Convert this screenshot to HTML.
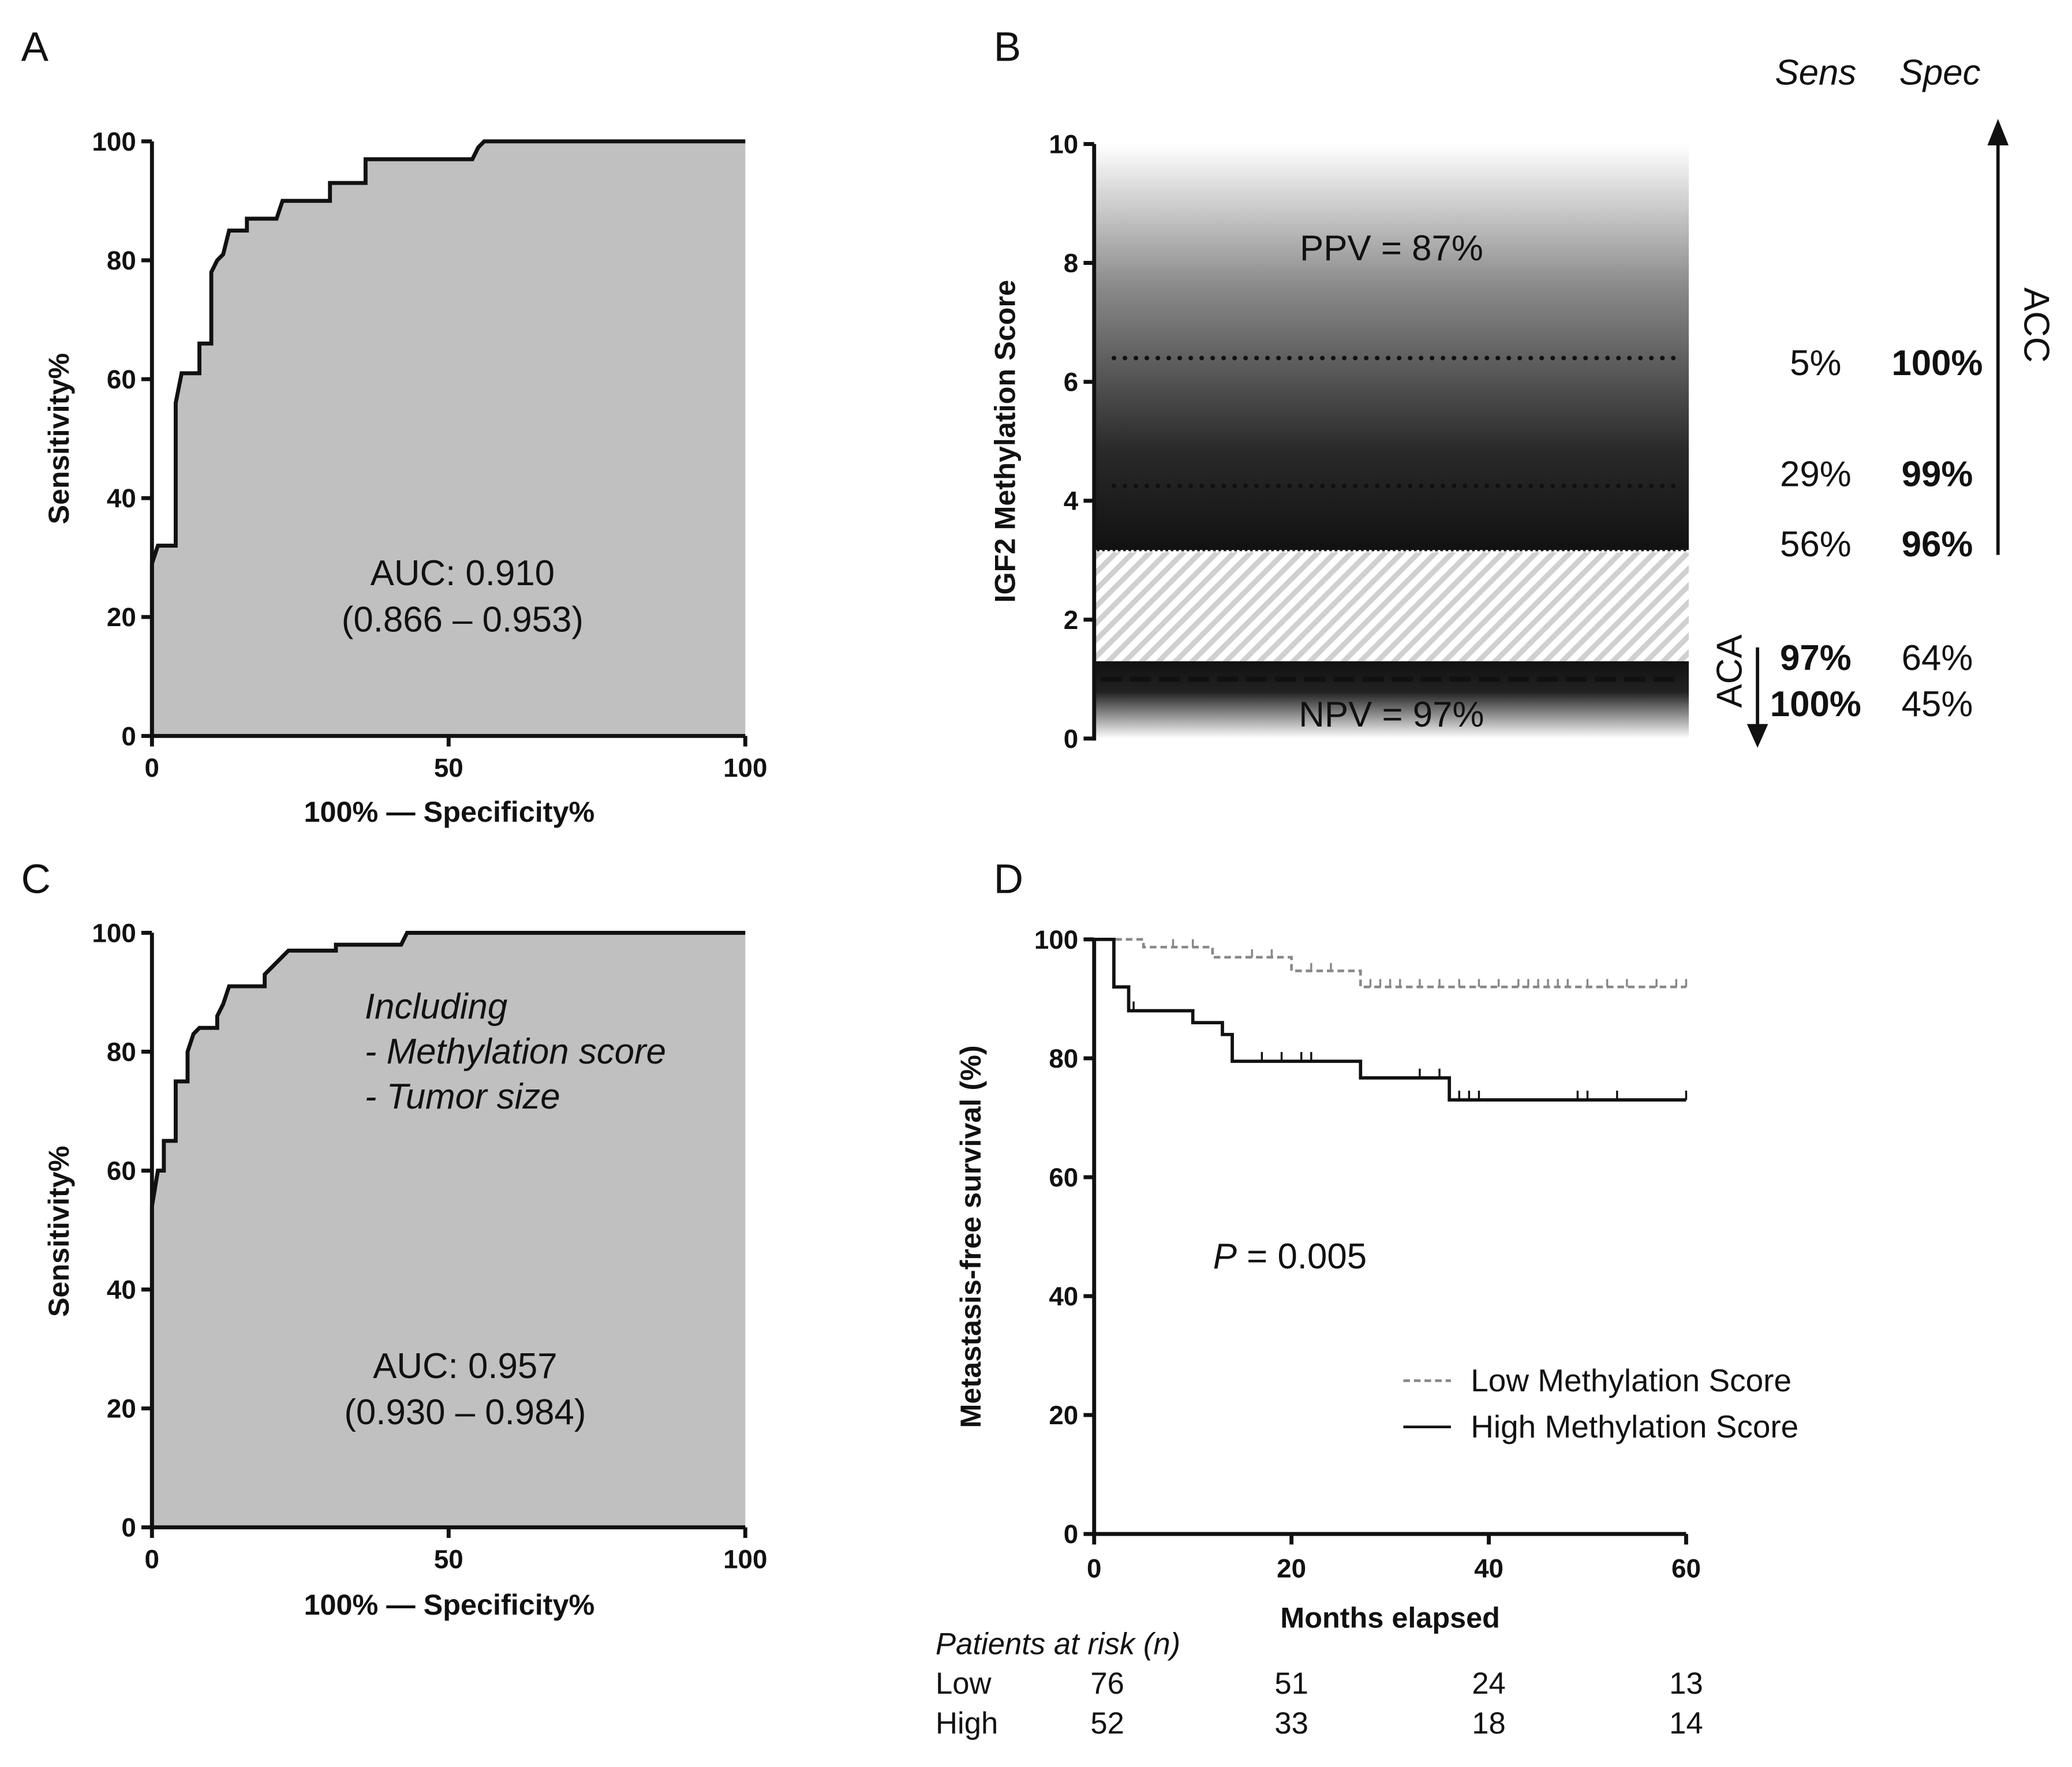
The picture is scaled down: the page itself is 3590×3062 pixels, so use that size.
<!DOCTYPE html>
<html><head><meta charset="utf-8"><style>
html,body{margin:0;padding:0;background:#fff;}
svg{display:block;}
text{font-family:"Liberation Sans",Arial,sans-serif;fill:#111;}
.tk{font-size:20px;font-weight:bold;}
.ax{font-size:22px;font-weight:bold;}
.pl{font-size:31px;}
.an{font-size:27px;}
</style></head><body>
<svg id="fig" width="3590" height="3062" viewBox="0 0 1568 1337.4" preserveAspectRatio="none" xmlns="http://www.w3.org/2000/svg">
<defs>
<linearGradient id="gTop" x1="0" y1="0" x2="0" y2="1">
<stop offset="0" stop-color="#fff"/><stop offset="0.35" stop-color="#8a8a8a"/><stop offset="0.75" stop-color="#2a2a2a"/><stop offset="1" stop-color="#111"/></linearGradient>
<linearGradient id="gBot" x1="0" y1="0" x2="0" y2="1">
<stop offset="0" stop-color="#111"/><stop offset="0.4" stop-color="#222"/><stop offset="1" stop-color="#fff"/></linearGradient>
<pattern id="hatch" width="9" height="9" patternUnits="userSpaceOnUse" patternTransform="rotate(45)">
<rect width="9" height="9" fill="#fff"/><rect width="4" height="9" fill="#d0d0d0"/></pattern>
</defs>
<g id="root"></g>
</svg>
<script>
// Panel A ROC (100-specificity %, sensitivity %)
const rocA_x=[0,0,1,4,4,5,8,8,10,10,11,12,13,16,16,21,22,30,30,36,36,54,55,56,100];
const rocA_y=[0,29,32,32,56,61,61,66,66,78,80,81,85,85,87,87,90,90,93,93,97,97,99,100,100];
// Panel C ROC
const rocC_x=[0,0,1,2,2,4,4,6,6,7,8,11,11,12,13,19,19,21,22,23,31,31,42,43,100];
const rocC_y=[0,54,60,60,65,65,75,75,80,83,84,84,86,88,91,91,93,95,96,97,97,98,98,100,100];
const rocTicks=[0,20,40,60,80,100];
const rocXTicks=[0,50,100];
// Panel B
const bTicks=[0,2,4,6,8,10];
const bCutoffs=[6.4,4.25];
const bGreyHigh=3.15, bGreyLow=1.3, bDash=1.0;
const bSens=["5%","29%","56%","97%","100%"];
const bSpec=["100%","99%","96%","64%","45%"];
// Panel D KM
const lowT=[0,5,5,12,12,20,20,27,27,60];
const lowS=[100,100,98.7,98.7,97,97,94.7,94.7,92,92];
const lowCens=[8,10,16,18,22,24,28,29,30,31,33,35,37,39,41,43,44,45,46,47,48,50,52,54,57,59,60];
const highT=[0,2,2,3.5,3.5,10,10,13,13,14,14,27,27,36,36,60];
const highS=[100,100,92,92,88,88,86,86,84,84,79.5,79.5,76.7,76.7,73,73];
const highCens=[4,17,19,21,22,33,35,37,38,39,49,50,53,60];
const kmTicksX=[0,20,40,60];
const kmTicksY=[0,20,40,60,80,100];
const riskLow=[76,51,24,13], riskHigh=[52,33,18,14];

const NS="http://www.w3.org/2000/svg";
const root=document.getElementById('root');
function el(tag,attrs,txt){const e=document.createElementNS(NS,tag);for(const k in attrs)e.setAttribute(k,attrs[k]);if(txt!==undefined)e.textContent=txt;root.appendChild(e);return e;}
function lin(d0,d1,r0,r1){return v=>r0+(v-d0)*(r1-r0)/(d1-d0);}

function rocPanel(px,py,xs,ys,top,name){
  const X=lin(0,100,115,564),Y=lin(0,100,top+450,top);
  let d='M'+X(0)+','+Y(0);
  xs.forEach((v,i)=>{d+=' L'+X(v)+','+Y(ys[i]);});
  const area=el('path',{d:d+' L'+X(100)+','+Y(0)+' Z',fill:'#c0c0c0',stroke:'none'});
  
  
  const ln=el('path',{d:d,fill:'none',stroke:'#111','stroke-width':3,'stroke-linejoin':'miter'});
  
  
  el('line',{x1:X(0),y1:Y(0)+1.5,x2:X(0),y2:Y(100),stroke:'#111','stroke-width':3});
  el('line',{x1:X(0)-1.5,y1:Y(0),x2:X(100),y2:Y(0),stroke:'#111','stroke-width':3});
  rocTicks.forEach(t=>{el('line',{x1:X(0)-8,x2:X(0),y1:Y(t),y2:Y(t),stroke:'#111','stroke-width':3});
    const tx=el('text',{x:X(0)-12,y:Y(t)+7,'text-anchor':'end',class:'tk'},t);
    
    });
  rocXTicks.forEach(t=>{el('line',{x1:X(t),x2:X(t),y1:Y(0),y2:Y(0)+8,stroke:'#111','stroke-width':3});
    const tx=el('text',{x:X(t),y:Y(0)+31,'text-anchor':'middle',class:'tk'},t);
    
    });
}
rocPanel(0,0,rocA_x,rocA_y,107,'panel-a');
rocPanel(0,0,rocC_x,rocC_y,706,'panel-c');

// Panel B
(function(){
  const Y=lin(0,10,559,109),x0=828,x1=1278;
  el('rect',{x:x0,y:Y(10),width:x1-x0,height:Y(bGreyHigh)-Y(10),fill:'url(#gTop)'});
  el('rect',{x:x0,y:Y(bGreyHigh),width:x1-x0,height:Y(bGreyLow)-Y(bGreyHigh),fill:'url(#hatch)'});
  el('rect',{x:x0,y:Y(bGreyLow),width:x1-x0,height:Y(0)-Y(bGreyLow),fill:'url(#gBot)'});
  el('line',{x1:x0,x2:x1,y1:Y(bGreyHigh),y2:Y(bGreyHigh),stroke:'#fff','stroke-width':2,'stroke-dasharray':'2 2'});
  bCutoffs.forEach(c=>{const l=el('line',{x1:x0+15,x2:x1-10,y1:Y(c),y2:Y(c),stroke:'#111','stroke-width':3.5,'stroke-linecap':'round','stroke-dasharray':'0 8.3'});
    
    });
  el('line',{x1:x0+5,x2:x1-10,y1:Y(bDash),y2:Y(bDash),stroke:'#111','stroke-width':4,'stroke-dasharray':'16 6'});
  el('line',{x1:x0,y1:Y(0)+1.5,x2:x0,y2:Y(10),stroke:'#111','stroke-width':3});
  bTicks.forEach(t=>{el('line',{x1:x0-8,x2:x0,y1:Y(t),y2:Y(t),stroke:'#111','stroke-width':3});
    const tx=el('text',{x:x0-12,y:Y(t)+7,'text-anchor':'end',class:'tk'},t);
    
    });
  const rowsY=[275,359,412,498,533];
  bSens.forEach((s,i)=>{const bold=i>=3;
    el('text',{x:1374,y:rowsY[i]+9,'text-anchor':'middle',class:'an','font-weight':bold?'bold':'normal'},s);
    el('text',{x:1466,y:rowsY[i]+9,'text-anchor':'middle',class:'an','font-weight':bold?'normal':'bold'},bSpec[i]);});
})();

// Panel D
(function(){
  const X=lin(0,60,828,1276),Y=lin(0,100,1161,711);
  function pts(T,S){return T.map((t,i)=>X(t)+','+Y(S[i])).join(' ');}
  function survAt(T,S,t){let v=S[0];for(let i=0;i<T.length;i++){if(T[i]<=t)v=S[i];}return v;}
  const lo=el('polyline',{points:pts(lowT,lowS),fill:'none',stroke:'#888','stroke-width':2,'stroke-dasharray':'5 3'});
  
  
  lowCens.forEach(t=>{const y=Y(survAt(lowT,lowS,t));el('line',{x1:X(t),x2:X(t),y1:y-6,y2:y,stroke:'#888','stroke-width':1.5});});
  const hi=el('polyline',{points:pts(highT,highS),fill:'none',stroke:'#111','stroke-width':2.5});
  
  
  highCens.forEach(t=>{const y=Y(survAt(highT,highS,t));el('line',{x1:X(t),x2:X(t),y1:y-7,y2:y,stroke:'#111','stroke-width':1.5});});
  el('line',{x1:X(0),y1:Y(0)+1.5,x2:X(0),y2:Y(100),stroke:'#111','stroke-width':3});
  el('line',{x1:X(0)-1.5,y1:Y(0),x2:X(60),y2:Y(0),stroke:'#111','stroke-width':3});
  kmTicksY.forEach(t=>{el('line',{x1:X(0)-8,x2:X(0),y1:Y(t),y2:Y(t),stroke:'#111','stroke-width':3});
    el('text',{x:X(0)-12,y:Y(t)+7,'text-anchor':'end',class:'tk'},t);});
  kmTicksX.forEach((t,i)=>{el('line',{x1:X(t),x2:X(t),y1:Y(0),y2:Y(0)+8,stroke:'#111','stroke-width':3});
    el('text',{x:X(t),y:Y(0)+33,'text-anchor':'middle',class:'tk'},t);
    el('text',{x:X(t)+(i==0?10:0),y:1282,'text-anchor':'middle',class:'an',style:'font-size:23px'},riskLow[i]);
    el('text',{x:X(t)+(i==0?10:0),y:1312,'text-anchor':'middle',class:'an',style:'font-size:23px'},riskHigh[i]);});
})();
</script>
<svg width="3590" height="3062" viewBox="0 0 1568 1337.4" preserveAspectRatio="none" xmlns="http://www.w3.org/2000/svg" style="position:absolute;left:0;top:0">
<style>text{font-family:"Liberation Sans",Arial,sans-serif;fill:#111;}.ax{font-size:22px;font-weight:bold;}.pl{font-size:31px;}.an{font-size:27px;}</style>
<text x="16" y="46" class="pl">A</text>
<text x="752" y="46" class="pl">B</text>
<text x="16" y="676" class="pl">C</text>
<text x="752" y="676" class="pl">D</text>
<text transform="translate(52,332) rotate(-90)" text-anchor="middle" class="ax">Sensitivity%</text>
<text x="340" y="622" text-anchor="middle" class="ax">100% — Specificity%</text>
<text x="350" y="443" text-anchor="middle" class="an">AUC: 0.910</text>
<text x="350" y="478" text-anchor="middle" class="an">(0.866 – 0.953)</text>
<text transform="translate(52,932) rotate(-90)" text-anchor="middle" class="ax">Sensitivity%</text>
<text x="340" y="1222" text-anchor="middle" class="ax">100% — Specificity%</text>
<text x="276" y="771" class="an" font-style="italic">Including</text>
<text x="276" y="805" class="an" font-style="italic">- Methylation score</text>
<text x="276" y="839" class="an" font-style="italic">- Tumor size</text>
<text x="352" y="1043" text-anchor="middle" class="an">AUC: 0.957</text>
<text x="352" y="1078" text-anchor="middle" class="an">(0.930 – 0.984)</text>
<text transform="translate(768,334) rotate(-90)" text-anchor="middle" class="ax">IGF2 Methylation Score</text>
<text x="1053" y="197" text-anchor="middle" class="an">PPV = 87%</text>
<text x="1053" y="550" text-anchor="middle" class="an">NPV = 97%</text>
<text x="1374" y="64" text-anchor="middle" class="an" font-style="italic">Sens</text>
<text x="1468" y="64" text-anchor="middle" class="an" font-style="italic">Spec</text>
<line x1="1512" y1="420" x2="1512" y2="108" stroke="#111" stroke-width="2.5"/>
<polygon points="1504,110 1520,110 1512,90" fill="#111"/>
<text transform="translate(1532,246) rotate(90)" text-anchor="middle" class="an">ACC</text>
<line x1="1330" y1="490" x2="1330" y2="550" stroke="#111" stroke-width="2.5"/>
<polygon points="1322,548 1338,548 1330,566" fill="#111"/>
<text transform="translate(1318,508) rotate(-90)" text-anchor="middle" class="an">ACA</text>
<text transform="translate(742,936) rotate(-90)" text-anchor="middle" class="ax">Metastasis-free survival (%)</text>
<text x="1052" y="1232" text-anchor="middle" class="ax">Months elapsed</text>
<text x="918" y="960" class="an"><tspan font-style="italic">P</tspan> = 0.005</text>
<line x1="1062" y1="1045" x2="1098" y2="1045" stroke="#888" stroke-width="2" stroke-dasharray="5 3"/>
<text x="1113" y="1053" font-size="24">Low Methylation Score</text>
<line x1="1062" y1="1080" x2="1098" y2="1080" stroke="#111" stroke-width="2"/>
<text x="1113" y="1088" font-size="24">High Methylation Score</text>
<text x="708" y="1252" font-size="23" font-style="italic">Patients at risk (n)</text>
<text x="708" y="1282" font-size="23">Low</text>
<text x="708" y="1312" font-size="23">High</text>
</svg>
</body></html>
